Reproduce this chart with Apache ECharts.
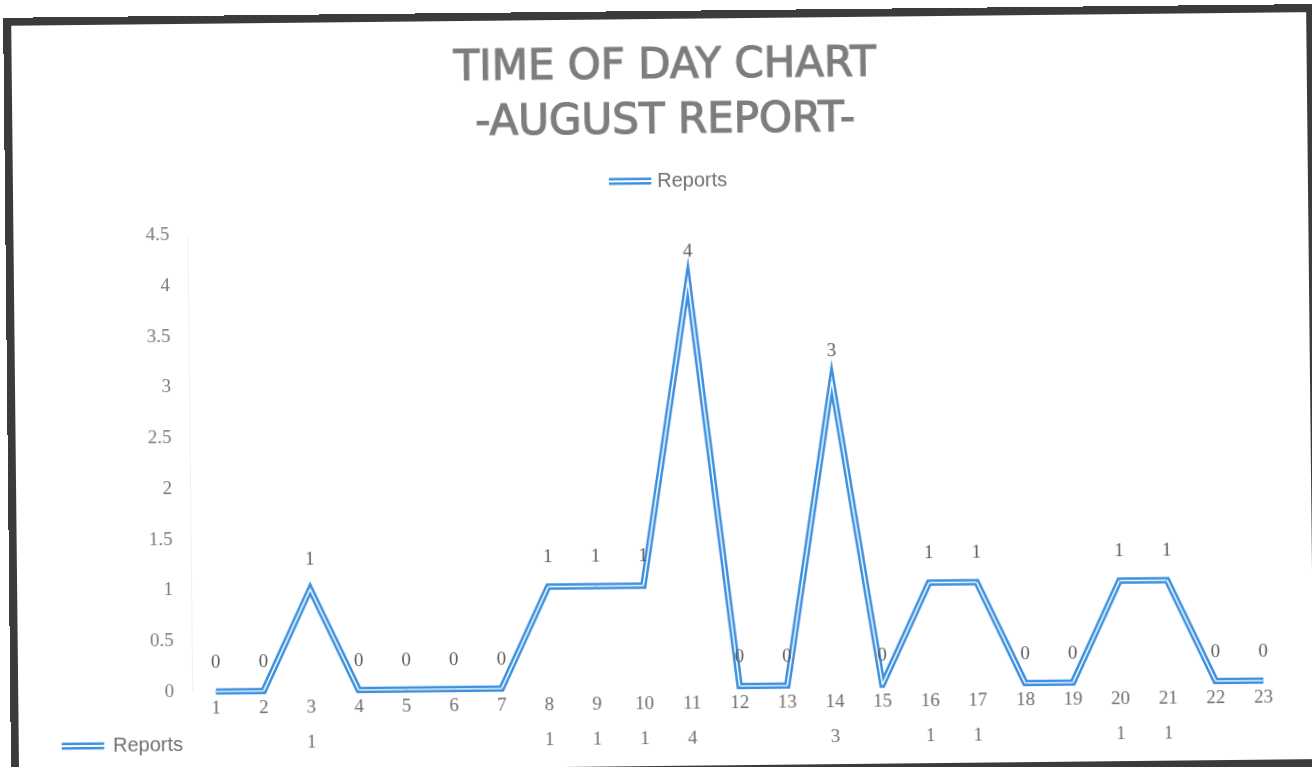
<!DOCTYPE html>
<html><head><meta charset="utf-8">
<script src="https://cdn.jsdelivr.net/npm/echarts@6/dist/echarts.min.js"></script>
<style>
html,body{margin:0;padding:0;background:#fff;overflow:hidden;width:1312px;height:767px}
#wrap{position:absolute;left:0;top:0;width:1312px;height:767px;transform:rotate(-0.6deg);transform-origin:656px 383px}
#chart{position:absolute;left:0;top:0;width:1312px;height:767px}
#frame{position:absolute;left:7px;top:11px;width:1311px;height:763px;border:8px solid #3b3b3b;box-sizing:border-box;pointer-events:none}
</style></head><body>
<div id="wrap"><div id="chart"></div><div id="frame"></div></div>
<script>
// ---- data ----
const titleLines = ['TIME OF DAY CHART', '-AUGUST REPORT-'];
const seriesName = 'Reports';
const hours = ['1','2','3','4','5','6','7','8','9','10','11','12','13','14','15','16','17','18','19','20','21','22','23'];
const reports = [0,0,1,0,0,0,0,1,1,1,4,0,0,3,0,1,1,0,0,1,1,0,0];
const yMin = 0, yMax = 4.5, yStep = 0.5;

const blue = '#3d90dd';
const gray = '#6e6e6e';
const numFont = 'Liberation Serif';
const doubleIcon = 'path://M0,0H40V2.4H0Z M0,4.2H40V6.6H0Z';

const chart = echarts.init(document.getElementById('chart'), null, {renderer: 'canvas'});
chart.setOption({
  backgroundColor: '#ffffff',
  animation: false,
  title: {
    text: titleLines.join('\n'),
    left: 663, textAlign: 'center', top: 35,
    textStyle: {fontFamily: 'DejaVu Sans', fontWeight: 'normal', fontSize: 42, lineHeight: 55, color: '#7d7d7d',
                textBorderColor: '#7d7d7d', textBorderWidth: 1.2}
  },
  legend: [
    {data: [seriesName], left: 611, top: 171, padding: 0, icon: doubleIcon, itemWidth: 44, itemHeight: 7, itemGap: 6,
     itemStyle: {color: blue},
     textStyle: {fontFamily: 'Liberation Sans', fontSize: 20, color: '#707070'}},
    {data: [seriesName], left: 58, top: 730, padding: 0, icon: doubleIcon, itemWidth: 50, itemHeight: 7, itemGap: 6,
     itemStyle: {color: blue},
     textStyle: {fontFamily: 'Liberation Sans', fontSize: 20, color: '#707070'}}
  ],
  grid: {left: 189, right: 28, top: 230, bottom: 80, containLabel: false},
  xAxis: [
    {type: 'category', data: hours, boundaryGap: true,
     axisLine: {show: false}, axisTick: {show: false},
     axisLabel: {margin: 8, fontFamily: numFont, fontSize: 19, color: gray}},
    {type: 'category', data: hours, position: 'bottom', offset: 34, boundaryGap: true,
     axisLine: {show: false}, axisTick: {show: false},
     axisLabel: {margin: 9, fontFamily: numFont, fontSize: 19, color: gray, interval: 0,
       formatter: (v, i) => reports[i] ? String(reports[i]) : ''}}
  ],
  yAxis: {type: 'value', min: yMin, max: yMax, interval: yStep,
    axisLine: {show: true, lineStyle: {color: '#f0f0f0'}}, axisTick: {show: false},
    splitLine: {show: false},
    axisLabel: {margin: 18, fontFamily: numFont, fontSize: 19, color: '#7a7a7a'}},
  series: [
    {name: seriesName, type: 'line', data: reports, xAxisIndex: 0,
     showSymbol: true, symbol: 'circle', symbolSize: 1,
     itemStyle: {color: blue},
     lineStyle: {color: blue, width: 6.5, join: 'miter', miterLimit: 12},
     labelLayout: {hideOverlap: false},
     label: {show: true, position: 'top', distance: 19, fontFamily: numFont, fontSize: 19, color: '#5a5a5a'}},
    {name: seriesName + ' inner', type: 'line', data: reports, xAxisIndex: 0, showSymbol: false, symbol: 'none',
     silent: true, color: '#ffffff',
     lineStyle: {color: '#f4f9ff', width: 1.6, join: 'miter', miterLimit: 12}}
  ]
});
</script>
</body></html>
